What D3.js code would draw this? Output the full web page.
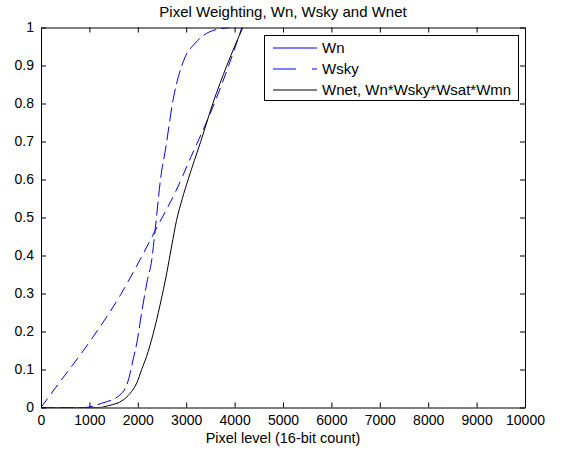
<!DOCTYPE html>
<html>
<head>
<meta charset="utf-8">
<script src="https://cdn.jsdelivr.net/npm/d3@7"></script>
<style>
    body { margin: 0; background: #fff; }
    text { font-family: "Liberation Sans", Arial, sans-serif; fill: #000; }
</style>
</head>
<body>
<div id="canvas"></div>
<script>
var title = 'Pixel Weighting, Wn, Wsky and Wnet';
var xLabel = 'Pixel level (16-bit count)';
var xTicks = [0, 1000, 2000, 3000, 4000, 5000, 6000, 7000, 8000, 9000, 10000];
var yTicks = [0, 0.1, 0.2, 0.3, 0.4, 0.5, 0.6, 0.7, 0.8, 0.9, 1];
var names = ['Wn', 'Wsky', 'Wnet, Wn*Wsky*Wsat*Wmn'];

/* Значения */
var wnX = [0, 300, 1000, 1650, 2050, 2420, 2770, 3100, 3500, 3850, 4150];
var wnY = [0, 0.052, 0.172, 0.298, 0.39, 0.48, 0.565, 0.66, 0.775, 0.89, 1.0];

var wskyX = [0, 900, 1250, 1630, 1800, 1910, 1980, 2080, 2190, 2290, 2360, 2490, 2560, 2730, 2970, 3180, 3490, 3900];
var wskyY = [0, 0, 0.011, 0.033, 0.07, 0.13, 0.17, 0.25, 0.33, 0.39, 0.47, 0.62, 0.67, 0.81, 0.92, 0.958, 0.989, 1.0];

var wnetX = [0, 1200, 1400, 1700, 1840, 1980, 2080, 2180, 2320, 2460, 2600, 2700, 2800, 2920, 3040, 3300, 3550, 3840, 4170];
var wnetY = [0, 0, 0.005, 0.02, 0.037, 0.065, 0.1, 0.134, 0.195, 0.27, 0.355, 0.425, 0.492, 0.55, 0.6, 0.7, 0.8, 0.9, 1.0];

function zip(xs, ys)
{
    return xs.map(function(x, i) { return [x, ys[i]]; });
}

var width = 562, height = 453;
var margin = {top: 27.5, right: 37, bottom: 45.5, left: 41};
var fontSize = '14px';

var svg = d3.select('#canvas').append('svg')
            .attr('width', width)
            .attr('height', height);

var x = d3.scaleLinear().domain([0, 10000]).range([margin.left, width - margin.right]);
var y = d3.scaleLinear().domain([0, 1]).range([height - margin.bottom, margin.top]);

svg.append('defs').append('clipPath').attr('id', 'plot')
   .append('rect')
   .attr('x', x(0)).attr('y', y(1))
   .attr('width', x(10000) - x(0)).attr('height', y(0) - y(1));

var line = d3.line()
             .x(function(d) { return x(d[0]); })
             .y(function(d) { return y(d[1]); })
             .curve(d3.curveMonotoneX);

var series = [
    {data: zip(wnX, wnY), color: '#0000ff', dash: '11,6', legendDash: null},
    {data: zip(wskyX, wskyY), color: '#0000ff', dash: '14,5', legendDash: '23,16,5'},
    {data: zip(wnetX, wnetY), color: '#000000', dash: null, legendDash: null}
];

var plot = svg.append('g').attr('clip-path', 'url(#plot)');
series.forEach(function(s)
{
    plot.append('path')
        .datum(s.data)
        .attr('d', line)
        .attr('fill', 'none')
        .attr('stroke', s.color)
        .attr('stroke-width', 1)
        .attr('stroke-dasharray', s.dash);
});

/* Рамка и засечки внутрь с четырёх сторон */
var axisBottom = d3.axisBottom(x).tickValues(xTicks).tickSizeInner(-5).tickSizeOuter(0).tickPadding(8)
                   .tickFormat(d3.format('d'));
var axisLeft = d3.axisLeft(y).tickValues(yTicks).tickSizeInner(-5).tickSizeOuter(0).tickPadding(7)
                 .tickFormat(function(d) { return d === 0 || d === 1 ? d : d.toFixed(1); });
var axisTop = d3.axisTop(x).tickValues(xTicks).tickSizeInner(-5).tickSizeOuter(0).tickFormat('');
var axisRight = d3.axisRight(y).tickValues(yTicks).tickSizeInner(-5).tickSizeOuter(0).tickFormat('');

svg.append('g').attr('transform', 'translate(0,' + y(0) + ')').call(axisBottom);
svg.append('g').attr('transform', 'translate(' + x(0) + ',0)').call(axisLeft);
svg.append('g').attr('transform', 'translate(0,' + y(1) + ')').call(axisTop);
svg.append('g').attr('transform', 'translate(' + x(10000) + ',0)').call(axisRight);

svg.selectAll('.domain').attr('stroke', '#000').attr('stroke-width', 1);
svg.selectAll('.tick line').attr('stroke', '#000');
svg.selectAll('.tick text').style('font-size', fontSize).attr('fill', '#000')
   .style('font-family', '"Liberation Sans", Arial, sans-serif');

svg.append('text')
   .attr('x', (x(0) + x(10000)) / 2).attr('y', 17)
   .attr('text-anchor', 'middle')
   .style('font-size', '15px')
   .text(title);

svg.append('text')
   .attr('x', (x(0) + x(10000)) / 2).attr('y', 443)
   .attr('text-anchor', 'middle')
   .style('font-size', '14.5px')
   .text(xLabel);

/* Легенда */
var legend = svg.append('g');
legend.append('rect')
      .attr('x', 264.5).attr('y', 35.5)
      .attr('width', 254).attr('height', 65)
      .attr('fill', '#fff').attr('stroke', '#000');

series.forEach(function(s, i)
{
    var ly = 48 + i * 21;
    legend.append('line')
          .attr('x1', 273).attr('x2', 317)
          .attr('y1', ly).attr('y2', ly)
          .attr('stroke', s.color)
          .attr('stroke-dasharray', s.legendDash);
    legend.append('text')
          .attr('x', 322).attr('y', ly + 5)
          .style('font-size', '15px')
          .text(names[i]);
});
</script>
</body>
</html>
